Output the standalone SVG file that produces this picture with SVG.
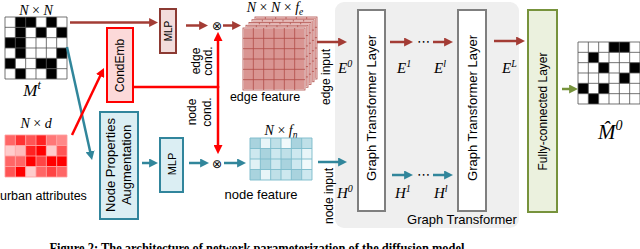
<svg xmlns="http://www.w3.org/2000/svg" xmlns:xlink="http://www.w3.org/1999/xlink" width="640" height="249" viewBox="0 0 640 249">
<defs>
<style>
.sans{font-family:"Liberation Sans",Arial,sans-serif;fill:#000}
.math{font-family:"Liberation Serif","Times New Roman",serif;font-style:italic;fill:#000}
.up{font-style:normal}
.sym{font-family:"DejaVu Sans",sans-serif;fill:#000}
.brown{stroke:#a33c35;stroke-width:2.5;fill:none}
.teal{stroke:#31869b;stroke-width:2.5;fill:none}
.red{stroke:#ff0000;stroke-width:2.5;fill:none}
.green{stroke:#77933c;stroke-width:2.5;fill:none}
.grid{stroke:#555;stroke-width:0.8;fill:none}
</style>
<marker id="ab" viewBox="0 0 10 10" refX="1" refY="5" markerWidth="9" markerHeight="9" markerUnits="userSpaceOnUse" orient="auto"><path d="M0,0 L10,5 L0,10 z" fill="#a33c35"/></marker>
<marker id="at" viewBox="0 0 10 10" refX="1" refY="5" markerWidth="9" markerHeight="9" markerUnits="userSpaceOnUse" orient="auto"><path d="M0,0 L10,5 L0,10 z" fill="#31869b"/></marker>
<marker id="ar" viewBox="0 0 10 10" refX="1" refY="5" markerWidth="9" markerHeight="9" markerUnits="userSpaceOnUse" orient="auto"><path d="M0,0 L10,5 L0,10 z" fill="#ff0000"/></marker>
<marker id="ag" viewBox="0 0 10 10" refX="1" refY="5" markerWidth="9" markerHeight="9" markerUnits="userSpaceOnUse" orient="auto"><path d="M0,0 L10,5 L0,10 z" fill="#77933c"/></marker>
<g id="efl">
<rect x="0" y="0" width="62" height="62" fill="#d99592" stroke="#fff" stroke-width="1.6"/>
<path d="M10.33,0V62M20.67,0V62M31,0V62M41.33,0V62M51.67,0V62M0,10.33H62M0,20.67H62M0,31H62M0,41.33H62M0,51.67H62" stroke="#b04c47" stroke-width="0.8" fill="none"/>
<rect x="0" y="0" width="62" height="62" fill="none" stroke="#b04c47" stroke-width="0.8"/>
</g>
</defs>

<!-- Graph Transformer background -->
<g id="graph-transformer">
<rect x="335" y="2" width="184" height="226" rx="9" fill="#efefef"/>
<text class="sans" x="462" y="224" font-size="13" text-anchor="middle">Graph Transformer</text>
</g>

<!-- M^t adjacency -->
<g id="Mt">
<text class="math" x="36" y="14.5" font-size="14" text-anchor="middle">N <tspan class="up">×</tspan> N</text>
<g transform="translate(5,17) scale(1.0333)">
<rect x="0" y="0" width="60" height="60" fill="#fff"/>
<g fill="#000">
<rect x="10" y="0" width="20" height="10"/><rect x="40" y="0" width="10" height="10"/>
<rect x="10" y="10" width="10" height="10"/><rect x="30" y="10" width="10" height="10"/><rect x="50" y="10" width="10" height="10"/>
<rect x="0" y="20" width="20" height="10"/>
<rect x="10" y="30" width="10" height="10"/><rect x="50" y="30" width="10" height="10"/>
<rect x="0" y="40" width="10" height="10"/><rect x="30" y="40" width="20" height="10"/>
<rect x="10" y="50" width="10" height="10"/><rect x="40" y="50" width="10" height="10"/>
</g>
<path class="grid" d="M0,0H60V60H0ZM10,0V60M20,0V60M30,0V60M40,0V60M50,0V60M0,10H60M0,20H60M0,30H60M0,40H60M0,50H60"/>
</g>
<text class="math" x="32" y="95.5" font-size="17" text-anchor="middle">M<tspan font-size="12" dy="-6.5">t</tspan></text>
</g>

<!-- urban attributes -->
<g id="urban">
<text class="math" x="36" y="127.5" font-size="14" text-anchor="middle">N <tspan class="up">×</tspan> d</text>
<g transform="translate(5,135) scale(1.0333,1.05)">
<rect x="0" y="0" width="10" height="10" fill="#ff6666"/><rect x="10" y="0" width="10" height="10" fill="#ff3333"/><rect x="20" y="0" width="10" height="10" fill="#ff5555"/><rect x="30" y="0" width="10" height="10" fill="#ff2222"/><rect x="40" y="0" width="10" height="10" fill="#ff7777"/><rect x="50" y="0" width="10" height="10" fill="#ff8888"/>
<rect x="0" y="10" width="10" height="10" fill="#ffcccc"/><rect x="10" y="10" width="10" height="10" fill="#ffbbbb"/><rect x="20" y="10" width="10" height="10" fill="#ff2222"/><rect x="30" y="10" width="10" height="10" fill="#ff0000"/><rect x="40" y="10" width="10" height="10" fill="#ffcccc"/><rect x="50" y="10" width="10" height="10" fill="#ff5555"/>
<rect x="0" y="20" width="10" height="10" fill="#ff6666"/><rect x="10" y="20" width="10" height="10" fill="#ff6666"/><rect x="20" y="20" width="10" height="10" fill="#ff0000"/><rect x="30" y="20" width="10" height="10" fill="#ff4444"/><rect x="40" y="20" width="10" height="10" fill="#ff0000"/><rect x="50" y="20" width="10" height="10" fill="#ff0000"/>
<rect x="0" y="30" width="10" height="10" fill="#ff5555"/><rect x="10" y="30" width="10" height="10" fill="#ff0000"/><rect x="20" y="30" width="10" height="10" fill="#ffcccc"/><rect x="30" y="30" width="10" height="10" fill="#ff6666"/><rect x="40" y="30" width="10" height="10" fill="#ff4444"/><rect x="50" y="30" width="10" height="10" fill="#ff6666"/>
<path d="M0,0H60V40H0ZM10,0V40M20,0V40M30,0V40M40,0V40M50,0V40M0,10H60M0,20H60M0,30H60" stroke="#ffa0a0" stroke-width="0.8" fill="none"/>
</g>
<text class="sans" x="0" y="200" font-size="12.5">urban attributes</text>
</g>

<!-- MLP edge -->
<g id="mlp-edge">
<rect x="160" y="9" width="16" height="44" fill="#f2dcdb" stroke="#8c3a33" stroke-width="2"/>
<text class="sans" transform="translate(168,31) rotate(-90)" y="3.6" font-size="10" text-anchor="middle">MLP</text>
</g>

<!-- CondEmb -->
<g id="condemb">
<rect x="107" y="28" width="26" height="74" fill="#fcd9d9" stroke="#ff0000" stroke-width="2"/>
<text class="sans" transform="translate(120,65.5) rotate(-90)" y="4.3" font-size="12" text-anchor="middle">CondEmb</text>
</g>

<!-- Node Properties Augmentation -->
<g id="npa">
<rect x="100" y="112" width="38" height="107" fill="#dbeef3" stroke="#31859c" stroke-width="2"/>
<text class="sans" transform="translate(119,165) rotate(-90)" font-size="13" text-anchor="middle"><tspan x="0" y="-4.5">Node Properties</tspan><tspan x="0" y="11.5">Augmentation</tspan></text>
</g>

<!-- MLP node -->
<g id="mlp-node">
<rect x="160" y="138" width="23" height="54" fill="#dbeef3" stroke="#31859c" stroke-width="2"/>
<text class="sans" transform="translate(171.5,164) rotate(-90)" y="4" font-size="11" text-anchor="middle">MLP</text>
</g>

<!-- edge feature -->
<g id="edge-feature">
<text class="math" x="275" y="12" font-size="14" text-anchor="middle">N <tspan class="up">×</tspan> N <tspan class="up">×</tspan> f<tspan font-size="9.5" dy="3">e</tspan></text>
<use xlink:href="#efl" x="255" y="17"/>
<use xlink:href="#efl" x="252" y="19.75"/>
<use xlink:href="#efl" x="249" y="22.5"/>
<use xlink:href="#efl" x="246" y="25.25"/>
<use xlink:href="#efl" x="243" y="28"/>
<text class="sans" x="265" y="101" font-size="12.5" text-anchor="middle">edge feature</text>
</g>

<!-- node feature -->
<g id="node-feature">
<text class="math" x="281" y="135" font-size="14" text-anchor="middle">N <tspan class="up">×</tspan> f<tspan font-size="9.5" dy="3">n</tspan></text>
<g transform="translate(250,138) scale(1.0333,1.05)">
<rect x="0" y="0" width="10" height="10" fill="#a9d3de"/><rect x="10" y="0" width="10" height="10" fill="#e8f5f8"/><rect x="20" y="0" width="10" height="10" fill="#bfe0e8"/><rect x="30" y="0" width="10" height="10" fill="#f0f9fb"/><rect x="40" y="0" width="10" height="10" fill="#a9d3de"/><rect x="50" y="0" width="10" height="10" fill="#bfe0e8"/>
<rect x="0" y="10" width="10" height="10" fill="#cde8ef"/><rect x="10" y="10" width="10" height="10" fill="#a9d3de"/><rect x="20" y="10" width="10" height="10" fill="#cde8ef"/><rect x="30" y="10" width="10" height="10" fill="#bfe0e8"/><rect x="40" y="10" width="10" height="10" fill="#cde8ef"/><rect x="50" y="10" width="10" height="10" fill="#e8f5f8"/>
<rect x="0" y="20" width="10" height="10" fill="#e0f1f5"/><rect x="10" y="20" width="10" height="10" fill="#a9d3de"/><rect x="20" y="20" width="10" height="10" fill="#cde8ef"/><rect x="30" y="20" width="10" height="10" fill="#a9d3de"/><rect x="40" y="20" width="10" height="10" fill="#cde8ef"/><rect x="50" y="20" width="10" height="10" fill="#f0f9fb"/>
<rect x="0" y="30" width="10" height="10" fill="#a9d3de"/><rect x="10" y="30" width="10" height="10" fill="#e8f5f8"/><rect x="20" y="30" width="10" height="10" fill="#bfe0e8"/><rect x="30" y="30" width="10" height="10" fill="#cde8ef"/><rect x="40" y="30" width="10" height="10" fill="#a9d3de"/><rect x="50" y="30" width="10" height="10" fill="#cde8ef"/>
<path d="M0,0H60V40H0ZM10,0V40M20,0V40M30,0V40M40,0V40M50,0V40M0,10H60M0,20H60M0,30H60" stroke="#7dbccc" stroke-width="0.9" fill="none"/>
</g>
<text class="sans" x="261" y="199" font-size="13" text-anchor="middle">node feature</text>
</g>

<!-- Graph Transformer Layers -->
<g id="gtl1">
<rect x="358" y="10" width="27" height="201" fill="#fff" stroke="#7f7f7f" stroke-width="2"/>
<text class="sans" transform="translate(371.5,108) rotate(-90)" y="4.7" font-size="13" text-anchor="middle">Graph Transformer Layer</text>
</g>
<g id="gtl2">
<rect x="458" y="10" width="28" height="201" fill="#fff" stroke="#7f7f7f" stroke-width="2"/>
<text class="sans" transform="translate(472,108) rotate(-90)" y="4.7" font-size="13" text-anchor="middle">Graph Transformer Layer</text>
</g>

<!-- Fully-connected Layer -->
<g id="fc">
<rect x="528" y="10" width="29" height="202" fill="#ebf1de" stroke="#77933c" stroke-width="2"/>
<text class="sans" transform="translate(542.5,111.5) rotate(-90)" y="4.3" font-size="12" text-anchor="middle">Fully-connected Layer</text>
</g>

<!-- M^0 output -->
<g id="M0">
<g transform="translate(578,42) scale(1.0333)">
<rect x="0" y="0" width="60" height="60" fill="#fff"/>
<g fill="#000">
<rect x="30" y="0" width="20" height="10"/>
<rect x="10" y="10" width="10" height="10"/>
<rect x="20" y="20" width="10" height="10"/><rect x="50" y="20" width="10" height="10"/>
<rect x="40" y="30" width="10" height="10"/>
<rect x="0" y="40" width="10" height="10"/><rect x="20" y="40" width="10" height="10"/>
<rect x="10" y="50" width="10" height="10"/>
</g>
<path class="grid" d="M0,0H60V60H0ZM10,0V60M20,0V60M30,0V60M40,0V60M50,0V60M0,10H60M0,20H60M0,30H60M0,40H60M0,50H60"/>
</g>
<text class="math" x="598" y="139" font-size="21">M&#x302;<tspan font-size="14" dy="-9">0</tspan></text>
</g>

<!-- ops and labels -->
<g id="ops">
<text class="sym" x="217" y="30" font-size="12" text-anchor="middle">⊗</text>
<text class="sym" x="217" y="167.5" font-size="12" text-anchor="middle">⊗</text>
<text class="sans" transform="translate(0,61) rotate(-90)" font-size="12" text-anchor="middle"><tspan x="0" y="200">edge</tspan><tspan x="0" y="212">cond.</tspan></text>
<text class="sans" transform="translate(0,112) rotate(-90)" font-size="12" text-anchor="middle"><tspan x="0" y="195.5">node</tspan><tspan x="0" y="211">cond.</tspan></text>
<text class="sans" transform="translate(330,77) rotate(-90)" font-size="12" text-anchor="middle">edge input</text>
<text class="sans" transform="translate(333,196) rotate(-90)" font-size="12" text-anchor="middle">node input</text>
<text class="math" x="338" y="73" font-size="15">E<tspan font-size="10" dy="-6">0</tspan></text>
<text class="math" x="397" y="73" font-size="15">E<tspan font-size="10" dy="-6">1</tspan></text>
<text class="math" x="434" y="73" font-size="15">E<tspan font-size="10" dy="-6">l</tspan></text>
<text class="math" x="502" y="73" font-size="15">E<tspan font-size="10" dy="-6">L</tspan></text>
<text class="math" x="337" y="198" font-size="15">H<tspan font-size="10" dy="-6">0</tspan></text>
<text class="math" x="395" y="198" font-size="15">H<tspan font-size="10" dy="-6">1</tspan></text>
<text class="math" x="434" y="198" font-size="15">H<tspan font-size="10" dy="-6">l</tspan></text>
<text class="sym" x="423.5" y="46" font-size="13" text-anchor="middle">⋯</text>
<text class="sym" x="423.5" y="179" font-size="13" text-anchor="middle">⋯</text>
</g>

<!-- connectors -->
<g id="connectors">
<path class="brown" d="M70,22.5H150" marker-end="url(#ab)"/>
<path class="brown" d="M186,25.5H200" marker-end="url(#ab)"/>
<path class="brown" d="M223,25.5H233" marker-end="url(#ab)"/>
<path class="brown" d="M317,42H339" marker-end="url(#ab)"/>
<path class="brown" d="M390,42H405" marker-end="url(#ab)"/>
<path class="brown" d="M433,42H445" marker-end="url(#ab)"/>
<path class="brown" d="M494,41H517" marker-end="url(#ab)"/>
<path class="teal" d="M67,47L90.3,152.2" marker-end="url(#at)"/>
<path class="teal" d="M142,163H150" marker-end="url(#at)"/>
<path class="teal" d="M189,163H201" marker-end="url(#at)"/>
<path class="teal" d="M224,163H238" marker-end="url(#at)"/>
<path class="teal" d="M318,162H339" marker-end="url(#at)"/>
<path class="teal" d="M392,175H405" marker-end="url(#at)"/>
<path class="teal" d="M433,175H445" marker-end="url(#at)"/>
<path class="red" d="M72,135L100.5,75.2" marker-end="url(#ar)"/>
<path class="red" d="M133,87H218"/>
<path class="red" d="M218,88V40" marker-end="url(#ar)"/>
<path class="red" d="M218,86V146" marker-end="url(#ar)"/>
<path class="green" d="M562,89H570" marker-end="url(#ag)"/>
</g>

<!-- caption -->
<text x="257" y="252.5" font-family="Liberation Serif, Times New Roman, serif" font-weight="bold" font-size="14" text-anchor="middle" textLength="415" lengthAdjust="spacingAndGlyphs">Figure 2: The architecture of network parameterization of the diffusion model</text>
</svg>
